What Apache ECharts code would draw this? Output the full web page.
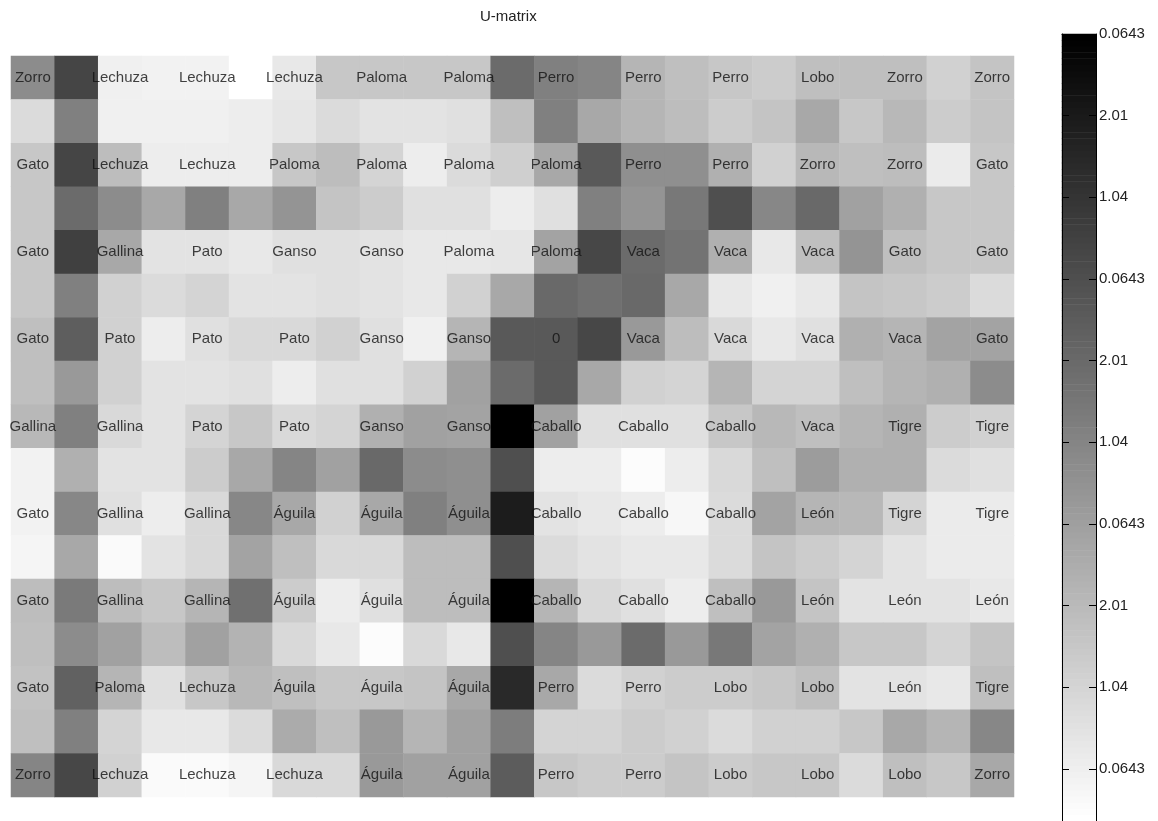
<!DOCTYPE html>
<html>
<head>
<meta charset="utf-8">
<title>U-matrix</title>
<script src="https://cdn.jsdelivr.net/npm/echarts@6/dist/echarts.min.js"></script>
<style>
  html, body { margin: 0; padding: 0; background: #ffffff; }
  #chart { width: 1158px; height: 821px; }
</style>
</head>
<body>
<div id="chart"></div>
<script>
// U-matrix of the SOM (23 x 17 cells); 0 = closest neighbours, 1 = largest distance
const uRows = [
  [0.45,0.73,0.06,0.05,0.05,0.00,0.09,0.22,0.22,0.22,0.22,0.58,0.50,0.48,0.29,0.25,0.22,0.20,0.25,0.25,0.25,0.18,0.23],
  [0.14,0.50,0.06,0.06,0.06,0.07,0.10,0.14,0.11,0.11,0.12,0.25,0.50,0.34,0.29,0.26,0.20,0.23,0.34,0.22,0.28,0.20,0.23],
  [0.22,0.73,0.26,0.07,0.07,0.07,0.22,0.26,0.17,0.07,0.14,0.19,0.34,0.65,0.44,0.44,0.31,0.18,0.28,0.25,0.26,0.08,0.22],
  [0.22,0.58,0.45,0.34,0.50,0.34,0.42,0.23,0.20,0.12,0.12,0.07,0.12,0.50,0.42,0.53,0.69,0.47,0.59,0.37,0.31,0.22,0.22],
  [0.22,0.75,0.34,0.11,0.11,0.09,0.12,0.12,0.11,0.09,0.09,0.10,0.36,0.72,0.58,0.55,0.31,0.09,0.25,0.42,0.25,0.22,0.22],
  [0.22,0.50,0.18,0.14,0.17,0.11,0.11,0.12,0.11,0.09,0.18,0.34,0.59,0.56,0.59,0.34,0.09,0.06,0.09,0.23,0.22,0.20,0.14],
  [0.25,0.63,0.18,0.07,0.12,0.15,0.15,0.18,0.12,0.06,0.29,0.65,0.65,0.72,0.40,0.26,0.15,0.09,0.12,0.31,0.29,0.36,0.36],
  [0.25,0.40,0.18,0.11,0.11,0.12,0.07,0.12,0.12,0.18,0.37,0.58,0.65,0.34,0.18,0.17,0.29,0.17,0.17,0.25,0.29,0.31,0.45],
  [0.28,0.50,0.15,0.11,0.17,0.22,0.15,0.17,0.31,0.37,0.36,1.00,0.37,0.12,0.12,0.12,0.22,0.28,0.25,0.29,0.31,0.20,0.18],
  [0.05,0.31,0.11,0.11,0.20,0.34,0.48,0.37,0.59,0.45,0.44,0.69,0.07,0.07,0.01,0.07,0.15,0.25,0.39,0.31,0.31,0.14,0.12],
  [0.05,0.47,0.12,0.07,0.15,0.47,0.34,0.18,0.34,0.50,0.44,0.89,0.11,0.09,0.07,0.03,0.14,0.36,0.29,0.28,0.17,0.08,0.08],
  [0.04,0.34,0.02,0.11,0.15,0.36,0.25,0.15,0.15,0.26,0.26,0.69,0.14,0.11,0.09,0.09,0.14,0.23,0.20,0.17,0.11,0.08,0.08],
  [0.26,0.52,0.26,0.22,0.29,0.56,0.20,0.07,0.12,0.26,0.26,1.00,0.29,0.15,0.12,0.07,0.25,0.40,0.23,0.11,0.11,0.11,0.09],
  [0.25,0.45,0.37,0.26,0.37,0.30,0.15,0.09,0.01,0.15,0.09,0.69,0.48,0.40,0.58,0.40,0.53,0.36,0.31,0.22,0.22,0.17,0.23],
  [0.24,0.62,0.29,0.12,0.22,0.28,0.25,0.22,0.22,0.23,0.34,0.84,0.34,0.14,0.18,0.20,0.20,0.22,0.25,0.11,0.11,0.09,0.25],
  [0.25,0.50,0.17,0.09,0.09,0.14,0.33,0.25,0.40,0.29,0.37,0.51,0.17,0.17,0.20,0.18,0.14,0.18,0.18,0.22,0.34,0.29,0.47],
  [0.48,0.72,0.18,0.02,0.02,0.04,0.15,0.15,0.40,0.37,0.37,0.64,0.22,0.20,0.20,0.23,0.20,0.22,0.22,0.14,0.25,0.22,0.34]
];

// Labels of the map units (one per unit, i.e. every second cell of the U-matrix)
const unitLabels = [
  ['Zorro','Lechuza','Lechuza','Lechuza','Paloma','Paloma','Perro','Perro','Perro','Lobo','Zorro','Zorro'],
  ['Gato','Lechuza','Lechuza','Paloma','Paloma','Paloma','Paloma','Perro','Perro','Zorro','Zorro','Gato'],
  ['Gato','Gallina','Pato','Ganso','Ganso','Paloma','Paloma','Vaca','Vaca','Vaca','Gato','Gato'],
  ['Gato','Pato','Pato','Pato','Ganso','Ganso','0','Vaca','Vaca','Vaca','Vaca','Gato'],
  ['Gallina','Gallina','Pato','Pato','Ganso','Ganso','Caballo','Caballo','Caballo','Vaca','Tigre','Tigre'],
  ['Gato','Gallina','Gallina','Águila','Águila','Águila','Caballo','Caballo','Caballo','León','Tigre','Tigre'],
  ['Gato','Gallina','Gallina','Águila','Águila','Águila','Caballo','Caballo','Caballo','León','León','León'],
  ['Gato','Paloma','Lechuza','Águila','Águila','Águila','Perro','Perro','Lobo','Lobo','León','Tigre'],
  ['Zorro','Lechuza','Lechuza','Lechuza','Águila','Águila','Perro','Perro','Lobo','Lobo','Lobo','Zorro']
];

// Colour-bar tick labels, cycled from the top of the bar downwards
const barTickLabels = ['0.0643', '2.01', '1.04'];

const nCols = uRows[0].length;
const nRows = uRows.length;
const FONT = '"Liberation Sans", Arial, Helvetica, sans-serif';

const colCats = Array.from({ length: nCols }, (_, i) => String(i));
const rowCats = Array.from({ length: nRows }, (_, i) => String(i));

const cells = [];
uRows.forEach((row, r) => row.forEach((v, c) => cells.push([c, r, v])));

const nameMarks = [];
unitLabels.forEach((row, i) => row.forEach((name, j) => {
  nameMarks.push({ name: name, value: [2 * j, 2 * i] });
}));

// Grey colour map for the colour bar (bottom = lowest distance)
const levels = 128;
const levelCats = Array.from({ length: levels }, (_, i) => String(i));
const barCells = Array.from({ length: levels }, (_, k) => [0, k, k / (levels - 1)]);

const BAR = { left: 1062, top: 34, width: 34, height: 787 };
const barTickCount = 9.64; // bar length in tick spacings

const barTickAxis = (pos, withLabels) => ({
  type: 'value',
  gridIndex: 2,
  position: pos,
  inverse: true,
  min: 0,
  max: barTickCount,
  interval: 1,
  z: 10,
  axisLine: { show: true, onZero: false, lineStyle: { color: '#000', width: 1 } },
  axisTick: { show: true, inside: true, length: 7, lineStyle: { color: '#000', width: 1 } },
  splitLine: { show: false },
  axisLabel: {
    show: withLabels,
    margin: 3,
    showMaxLabel: false,
    fontSize: 15,
    fontFamily: FONT,
    color: '#222',
    formatter: v => (Math.abs(v - Math.round(v)) < 1e-6 ? barTickLabels[Math.round(v) % barTickLabels.length] : '')
  }
});

const chart = echarts.init(document.getElementById('chart'), null, { renderer: 'canvas' });

chart.setOption({
  animation: false,
  backgroundColor: '#ffffff',
  title: {
    text: 'U-matrix',
    left: 480,
    top: 9,
    padding: 0,
    textStyle: { fontSize: 15, fontWeight: 'normal', color: '#222', fontFamily: FONT }
  },
  grid: [
    { left: 11, top: 56, width: 1003, height: 741 },
    { left: BAR.left, top: BAR.top, width: BAR.width, height: BAR.height },
    { left: BAR.left, top: BAR.top, width: BAR.width, height: BAR.height }
  ],
  xAxis: [
    { type: 'category', gridIndex: 0, data: colCats, show: false },
    { type: 'category', gridIndex: 1, data: [''], show: false },
    {
      type: 'value', gridIndex: 2, position: 'top', min: 0, max: 1, z: 10,
      axisLine: { show: true, onZero: false, lineStyle: { color: '#000', width: 1 } },
      axisTick: { show: false }, axisLabel: { show: false }, splitLine: { show: false }
    }
  ],
  yAxis: [
    { type: 'category', gridIndex: 0, data: rowCats, inverse: true, show: false },
    { type: 'category', gridIndex: 1, data: levelCats, show: false },
    barTickAxis('right', true),
    barTickAxis('left', false)
  ],
  visualMap: {
    show: false,
    type: 'continuous',
    seriesIndex: [0, 1],
    dimension: 2,
    min: 0,
    max: 1,
    inRange: { color: ['#ffffff', '#000000'] }
  },
  series: [
    {
      type: 'heatmap',
      xAxisIndex: 0,
      yAxisIndex: 0,
      data: cells,
      silent: true,
      itemStyle: { borderWidth: 0 },
      emphasis: { disabled: true }
    },
    {
      type: 'heatmap',
      xAxisIndex: 1,
      yAxisIndex: 1,
      data: barCells,
      silent: true,
      emphasis: { disabled: true }
    },
    {
      type: 'scatter',
      xAxisIndex: 0,
      yAxisIndex: 0,
      data: nameMarks,
      symbolSize: 1,
      silent: true,
      z: 10,
      itemStyle: { color: 'transparent' },
      label: {
        show: true,
        position: 'inside',
        formatter: '{b}',
        fontSize: 15,
        fontFamily: FONT,
        color: '#111'
      },
      emphasis: { disabled: true }
    }
  ]
});
</script>
</body>
</html>
